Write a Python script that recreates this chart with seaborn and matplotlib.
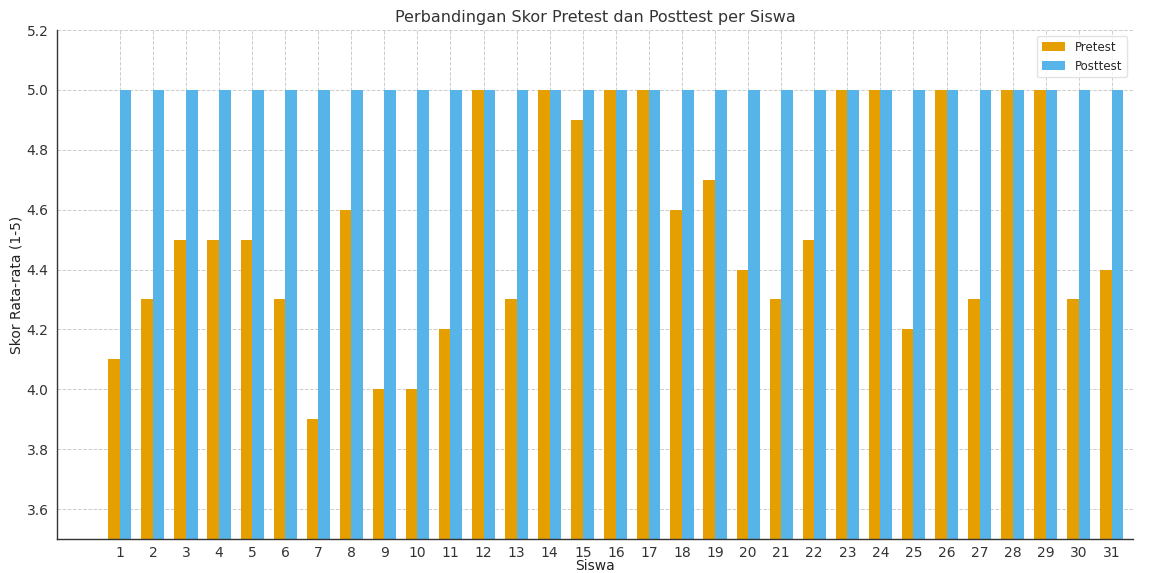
import matplotlib
matplotlib.use("Agg")
import matplotlib.pyplot as plt
import seaborn as sns
import pandas as pd

siswa = [str(i) for i in range(1, 32)]
pretest = [4.1, 4.3, 4.5, 4.5, 4.5, 4.3, 3.9, 4.6, 4.0, 4.0, 4.2, 5.0, 4.3, 5.0, 4.9,
           5.0, 5.0, 4.6, 4.7, 4.4, 4.3, 4.5, 5.0, 5.0, 4.2, 5.0, 4.3, 5.0, 5.0, 4.3, 4.4]
posttest = [5.0] * 31
series = ["Pretest", "Posttest"]
colors = ["#E69F00", "#56B4E9"]

df = pd.DataFrame({
    "Siswa": siswa * 2,
    "Skor": pretest + posttest,
    "Tes": [series[0]] * 31 + [series[1]] * 31,
})

sns.set_style("white")
plt.rcParams['font.family'] = ['DejaVu Sans']
fig = plt.figure(figsize=(11.63, 5.73), dpi=100)
ax = fig.add_axes([57/1163, 1 - 539/573, (1133-57)/1163, (539-30)/573])

sns.barplot(data=df, x="Siswa", y="Skor", hue="Tes", order=siswa, hue_order=series,
            palette=colors, width=0.7, ax=ax, saturation=1, errorbar=None,
            edgecolor="none", linewidth=0)

ax.set_ylim(3.5, 5.2)
ax.set_xlim(-1.9, 30.64)
ax.set_yticks([3.6, 3.8, 4.0, 4.2, 4.4, 4.6, 4.8, 5.0, 5.2])
ax.grid(True, linestyle="--", color="#cccccc", linewidth=0.7)
ax.set_axisbelow(True)
sns.despine(ax=ax)
for s in ["left", "bottom"]:
    ax.spines[s].set_color("#333333")
    ax.spines[s].set_linewidth(1.0)
ax.tick_params(axis="both", labelsize=10, colors="#333333", length=3, pad=3)
ax.tick_params(axis="x", pad=2)
ax.set_title("Perbandingan Skor Pretest dan Posttest per Siswa", fontsize=11.5, color="#333333", pad=6)
ax.set_xlabel("Siswa", fontsize=10, color="#222222", labelpad=-1)
ax.set_ylabel("Skor Rata-rata (1-5)", fontsize=10, color="#222222", labelpad=2)
leg = ax.legend(loc="upper right", fontsize=8.5, frameon=True, title=None)
leg.get_frame().set_edgecolor("#dddddd")

fig.savefig("out.png", dpi=100)
